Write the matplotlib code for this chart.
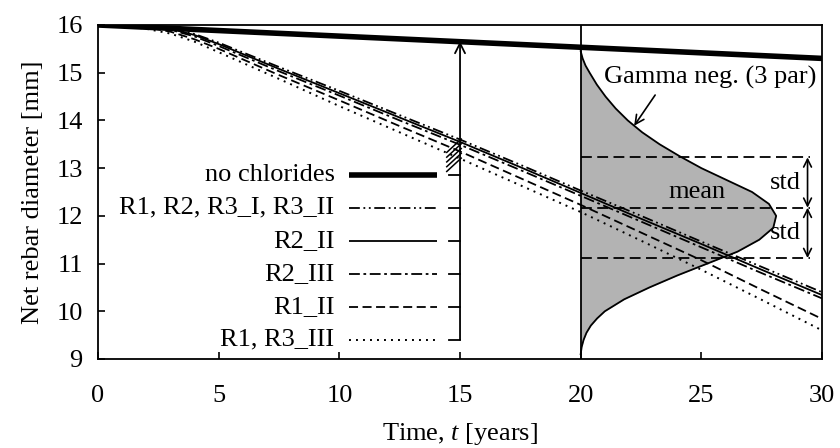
"""Net rebar diameter over time, with gamma pdf at t = 20 years."""
import numpy as np
import matplotlib
matplotlib.use("Agg")
import matplotlib.pyplot as plt

plt.rcParams["font.family"] = ["Liberation Serif", "DejaVu Serif"]
plt.rcParams["mathtext.fontset"] = "custom"
plt.rcParams["mathtext.rm"] = "Liberation Serif"
plt.rcParams["mathtext.it"] = "Liberation Serif:italic"
FS = 19

# ---- data ----
years = [0, 1, 2, 3, 4, 5, 7.5, 10, 12.5, 15, 17.5, 20, 22.5, 25, 27.5, 30]
no_cl_years = [0, 30]
no_cl = [16.0, 15.3]
r_all = [16, 16.0, 15.98, 15.93, 15.81, 15.63, 15.12, 14.62, 14.11, 13.6,
         13.07, 12.53, 12.0, 11.46, 10.93, 10.4]
r2_ii = [16, 16.0, 15.98, 15.92, 15.79, 15.6, 15.08, 14.57, 14.06, 13.55,
         13.02, 12.48, 11.94, 11.41, 10.87, 10.34]
r2_iii = [16, 16.0, 15.97, 15.9, 15.76, 15.56, 15.03, 14.52, 14.0, 13.49,
          12.96, 12.42, 11.88, 11.34, 10.8, 10.27]
r1_ii = [16, 15.99, 15.95, 15.86, 15.7, 15.5, 14.95, 14.42, 13.88, 13.35,
         12.79, 12.23, 11.65, 11.07, 10.45, 9.84]
r1_r3_iii = [16, 15.98, 15.92, 15.82, 15.65, 15.43, 14.87, 14.3, 13.75, 13.2,
             12.64, 12.08, 11.48, 10.87, 10.24, 9.6]

series_labels = ["no chlorides", "R1, R2, R3_I, R3_II", "R2_II", "R2_III",
                 "R1_II", "R1, R3_III"]

# gamma pdf drawn sideways at t = 20 (diameter, abscissa in years)
pdf_diam = [15.45, 15.3, 15.15, 15.0, 14.75, 14.5, 14.25, 14.0, 13.75, 13.5,
            13.25, 13.0, 12.75, 12.5, 12.25, 12.0, 11.75, 11.5, 11.25, 11.0,
            10.75, 10.5, 10.25, 10.0, 9.85, 9.7, 9.55, 9.4, 9.25, 9.1]
pdf_x = [20.0, 20.08, 20.2, 20.37, 20.67, 21.03, 21.45, 21.95, 22.55, 23.27,
         24.1, 25.0, 26.05, 27.1, 27.8, 28.1, 27.98, 27.4, 26.5, 25.25,
         24.0, 22.85, 21.8, 21.0, 20.68, 20.42, 20.24, 20.12, 20.04, 20.0]
pdf_mean = 12.17
pdf_std = 1.055
t_cut = 20

# ---- figure ----
fig = plt.figure(figsize=(8.4, 4.48), dpi=100)
ax = fig.add_axes([0.1167, 0.1987, 0.8619, 0.7455])

ax.fill_betweenx(pdf_diam, t_cut, pdf_x, color="#b3b3b3", lw=0, zorder=1)
ax.plot(pdf_x, pdf_diam, color="black", lw=1.3, zorder=2)
ax.axvline(t_cut, color="black", lw=1.3, zorder=2)

styles = [
    dict(color="black", lw=4.0, ls="-", solid_capstyle="round"),
    dict(color="black", lw=1.3, ls=(0, (6, 2, 1, 2, 1, 2))),
    dict(color="black", lw=1.3, ls="-"),
    dict(color="black", lw=1.3, ls=(0, (6, 2, 1.5, 2))),
    dict(color="black", lw=1.3, ls=(0, (5, 2.5))),
    dict(color="black", lw=1.4, ls=(0, (1, 2.6))),
]
curves = [r_all, r2_ii, r2_iii, r1_ii, r1_r3_iii]
for vals, st in zip(curves, styles[1:]):
    ax.plot(years, vals, zorder=3, **st)
ax.plot(no_cl_years, no_cl, zorder=4, **styles[0])

# mean / std markers
for lvl in (pdf_mean + pdf_std, pdf_mean, pdf_mean - pdf_std):
    ax.plot([t_cut, 29.5], [lvl, lvl], color="black", lw=1.3,
            ls=(0, (6, 3)), zorder=3)
for lo, hi in ((pdf_mean, pdf_mean + pdf_std), (pdf_mean - pdf_std, pdf_mean)):
    ax.annotate("", xy=(29.4, hi), xytext=(29.4, lo),
                arrowprops=dict(arrowstyle="<->", lw=1.2, color="black",
                                shrinkA=0, shrinkB=0, mutation_scale=14))
ax.text(24.8, pdf_mean + 0.34, "mean", fontsize=FS, ha="center", va="center")
ax.text(28.5, pdf_mean + 0.52, "std", fontsize=FS, ha="center", va="center")
ax.text(28.5, pdf_mean - 0.52, "std", fontsize=FS, ha="center", va="center")
ax.text(25.35, 14.9, "Gamma neg. (3 par)", fontsize=FS, ha="center",
        va="center")
ax.annotate("", xy=(22.15, 13.84), xytext=(23.15, 14.58),
            arrowprops=dict(arrowstyle="->", lw=1.2, color="black",
                            mutation_scale=16))

# hand-made legend tied to the t = 15 leader
leg_x0, leg_x1, stub_x0, leader_x = 10.4, 14.05, 14.55, 15.0
leg_top, leg_step = 12.86, 0.692
leg_y = [leg_top - i * leg_step for i in range(len(series_labels))]
for lab, st, y in zip(series_labels, styles, leg_y):
    ax.plot([leg_x0, leg_x1], [y, y], zorder=4,
            **{**st, "solid_capstyle": "butt"})
    ax.plot([stub_x0, leader_x], [y, y], color="black", lw=1.3, zorder=4)
    ax.text(9.8, y, lab, fontsize=FS, ha="right", va="center")
ax.annotate("", xy=(leader_x, 15.66), xytext=(leader_x, leg_y[-1]),
            arrowprops=dict(arrowstyle="->", lw=1.3, color="black",
                            shrinkA=0, shrinkB=0, mutation_scale=18))
# short diagonal leaders towards the curve bundle
for k in range(5):
    y0 = 12.93 + 0.1 * k
    ax.plot([14.45, 15.05], [y0, y0 + 0.28], color="black", lw=1.1, zorder=4)

ax.set_xlim(0, 30)
ax.set_ylim(9, 16)
ax.set_xticks(range(0, 31, 5))
ax.set_yticks(range(9, 17))
ax.tick_params(direction="in", length=5, width=1.2, labelsize=FS)
ax.tick_params(axis="x", pad=19)
ax.tick_params(axis="y", pad=11)
for sp in ax.spines.values():
    sp.set_linewidth(1.3)
ax.set_xlabel(r"Time, $t$ [years]", fontsize=FS, labelpad=10)
ax.set_ylabel("Net rebar diameter [mm]", fontsize=FS, labelpad=9)

fig.savefig("out.png", dpi=100)
